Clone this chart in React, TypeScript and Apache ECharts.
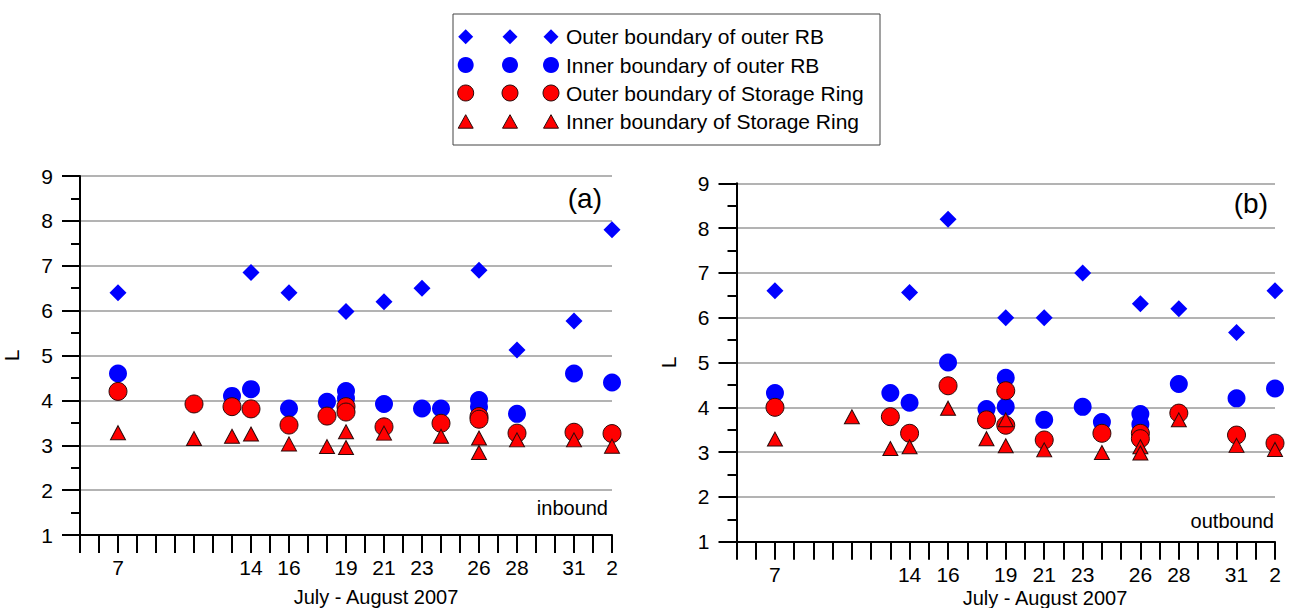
import React, { useEffect, useRef } from "react";
import * as echarts from "echarts";

// Day numbering: July days as-is, Aug 1 = 32, Aug 2 = 33
const DAY_MIN = 5;
const DAY_MAX = 33;
const LABEL_DAYS = [7, 14, 16, 19, 21, 23, 26, 28, 31, 33];
const LABEL_TEXTS = ["7", "14", "16", "19", "21", "23", "26", "28", "31", "2"];
const L_MIN = 1;
const L_MAX = 9;

const LEGEND_NAMES = [
  "Outer boundary of outer RB",
  "Inner boundary of outer RB",
  "Outer boundary of Storage Ring",
  "Inner boundary of Storage Ring",
];

// (a) inbound
const inOuterRB = [[7, 6.4], [14, 6.85], [16, 6.4], [19, 5.98], [21, 6.2], [23, 6.5], [26, 6.9], [28, 5.12], [31, 5.77], [33, 7.8]];
const inInnerRB = [[7, 4.6], [13, 4.1], [14, 4.25], [16, 3.82], [18, 3.97], [19, 4.21], [19, 4.05], [21, 3.92], [23, 3.82], [24, 3.82], [26, 4.01], [26, 3.86], [28, 3.7], [31, 4.6], [33, 4.4]];
const inOuterSR = [[7, 4.2], [11, 3.92], [13, 3.86], [14, 3.81], [16, 3.45], [18, 3.65], [19, 3.86], [19, 3.74], [21, 3.41], [24, 3.49], [26, 3.64], [26, 3.58], [28, 3.27], [31, 3.29], [33, 3.26]];
const inInnerSR = [[7, 3.28], [11, 3.15], [13, 3.2], [14, 3.25], [16, 3.03], [18, 2.97], [19, 3.3], [19, 2.95], [21, 3.27], [24, 3.2], [26, 3.16], [26, 2.84], [28, 3.12], [31, 3.12], [33, 2.98]];

// (b) outbound
const outOuterRB = [[7, 6.6], [14, 6.56], [16, 8.2], [19, 6.0], [21, 6.0], [23, 7.0], [26, 6.31], [28, 6.2], [31, 5.67], [33, 6.6]];
const outInnerRB = [[7, 4.32], [13, 4.32], [14, 4.1], [16, 5.0], [18, 3.96], [19, 4.66], [19, 4.01], [21, 3.72], [23, 4.01], [24, 3.67], [26, 3.85], [26, 3.62], [28, 4.52], [31, 4.2], [33, 4.42]];
const outOuterSR = [[7, 4.0], [13, 3.79], [14, 3.42], [16, 4.48], [18, 3.72], [19, 4.37], [19, 3.6], [21, 3.27], [24, 3.42], [26, 3.42], [26, 3.3], [28, 3.87], [31, 3.38], [33, 3.2]];
const outInnerSR = [[7, 3.29], [11, 3.79], [13, 3.08], [14, 3.12], [16, 3.98], [18, 3.3], [19, 3.72], [19, 3.14], [21, 3.05], [24, 2.99], [26, 3.12], [26, 2.98], [28, 3.72], [31, 3.15], [33, 3.06]];

const FONT = "Liberation Sans, Arial, Helvetica, sans-serif";
const BLUE = "#0000ff";
const RED = "#ff0000";
const EDGE = "#2a0a0a";

const STYLES = [
  { symbol: "diamond", size: [17, 17], itemStyle: { color: BLUE, opacity: 1 } },
  { symbol: "circle", size: 18, itemStyle: { color: BLUE, opacity: 1 } },
  { symbol: "circle", size: 18, itemStyle: { color: RED, borderColor: EDGE, borderWidth: 1, opacity: 1 } },
  { symbol: "triangle", size: [15, 14], itemStyle: { color: RED, borderColor: EDGE, borderWidth: 1, opacity: 1 } },
];

function xAxisFor(gridIndex: number) {
  return {
    type: "value",
    gridIndex,
    min: DAY_MIN,
    max: DAY_MAX,
    interval: 1,
    axisLine: { onZero: false, lineStyle: { color: "#000", width: 2 } },
    axisTick: { show: true, inside: false, length: 18, lineStyle: { color: "#000", width: 2 } },
    splitLine: { show: false },
    axisLabel: {
      margin: 22,
      fontSize: 21,
      fontFamily: FONT,
      color: "#000",
      formatter: (v: number) => {
        const i = LABEL_DAYS.indexOf(v);
        return i >= 0 ? LABEL_TEXTS[i] : "";
      },
    },
  };
}

function yAxisFor(gridIndex: number) {
  return {
    type: "value",
    gridIndex,
    min: L_MIN,
    max: L_MAX,
    interval: 1,
    name: "L",
    nameLocation: "middle",
    nameGap: 58,
    nameRotate: 90,
    nameTextStyle: { fontSize: 21, fontFamily: FONT, color: "#000" },
    axisLine: { show: true, onZero: false, lineStyle: { color: "#000", width: 2 } },
    axisTick: { show: true, inside: false, length: 18, lineStyle: { color: "#000", width: 2 } },
    minorTick: { show: true, splitNumber: 2, length: 9, lineStyle: { color: "#000", width: 2 } },
    splitLine: { show: true, lineStyle: { color: "#9a9a9a", width: 1.5 } },
    axisLabel: { margin: 27, fontSize: 21, fontFamily: FONT, color: "#000" },
  };
}

function seriesFor(idx: number, data: number[][][]) {
  return data.map((d, k) => ({
    type: "scatter",
    name: LEGEND_NAMES[k],
    xAxisIndex: idx,
    yAxisIndex: idx,
    symbol: STYLES[k].symbol,
    symbolSize: STYLES[k].size,
    itemStyle: STYLES[k].itemStyle,
    emphasis: { disabled: true },
    data: d,
    z: 2 + k,
  }));
}

function legendGraphics() {
  const left = 453, top = 14, w = 427, h = 131;
  const rowY = [36.7, 65, 93, 121.7];
  const symX = [465.7, 510, 551];
  const els: any[] = [
    { type: "rect", shape: { x: left, y: top, width: w, height: h }, style: { fill: "#fff", stroke: "#444", lineWidth: 1 } },
  ];
  rowY.forEach((y, r) => {
    symX.forEach((x) => {
      if (r === 0) {
        els.push({ type: "polygon", shape: { points: [[x, y - 7.5], [x + 7.5, y], [x, y + 7.5], [x - 7.5, y]] }, style: { fill: BLUE } });
      } else if (r === 1) {
        els.push({ type: "circle", shape: { cx: x, cy: y, r: 8 }, style: { fill: BLUE } });
      } else if (r === 2) {
        els.push({ type: "circle", shape: { cx: x, cy: y, r: 8 }, style: { fill: RED, stroke: EDGE, lineWidth: 1 } });
      } else {
        els.push({ type: "polygon", shape: { points: [[x, y - 7], [x + 7.5, y + 6.5], [x - 7.5, y + 6.5]] }, style: { fill: RED, stroke: EDGE, lineWidth: 1 } });
      }
    });
    els.push({
      type: "text",
      x: 566,
      y,
      style: { text: LEGEND_NAMES[r], fontSize: 21, fontFamily: FONT, fill: "#000", textVerticalAlign: "middle", verticalAlign: "middle" },
    });
  });
  return els;
}

function textEl(text: string, x: number, y: number, size: number, align: string) {
  return {
    type: "text",
    x,
    y,
    style: { text, fontSize: size, fontFamily: FONT, fill: "#000", align, textAlign: align, verticalAlign: "middle", textVerticalAlign: "middle" },
  };
}

export default function App() {
  const ref = useRef<HTMLDivElement>(null);
  useEffect(() => {
    if (!ref.current) return;
    const chart = echarts.init(ref.current, undefined, { renderer: "svg" });
    const option: any = {
      animation: false,
      backgroundColor: "#fff",
      grid: [
        { left: 74, top: 176, width: 538, height: 359 },
        { left: 736.5, top: 183.3, width: 538.5, height: 358.4 },
      ],
      xAxis: [xAxisFor(0), xAxisFor(1)],
      yAxis: [yAxisFor(0), yAxisFor(1)],
      series: [
        ...seriesFor(0, [inOuterRB, inInnerRB, inOuterSR, inInnerSR]),
        ...seriesFor(1, [outOuterRB, outInnerRB, outOuterSR, outInnerSR]),
      ],
      graphic: [
        ...legendGraphics(),
        textEl("(a)", 602, 198, 28, "right"),
        textEl("(b)", 1268, 203, 28, "right"),
        textEl("inbound", 608, 508, 20, "right"),
        textEl("outbound", 1274, 521, 20, "right"),
        textEl("July - August 2007", 376, 597, 20, "center"),
        textEl("July - August 2007", 1045, 597.5, 20, "center"),
      ],
    };
    chart.setOption(option);
    return () => chart.dispose();
  }, []);
  return (
    <div
      ref={ref}
      style={{ position: "fixed", left: 0, top: 0, width: 1293, height: 608, background: "#fff" }}
    />
  );
}
